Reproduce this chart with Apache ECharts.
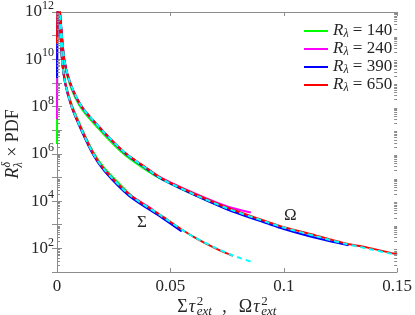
<!DOCTYPE html>
<html><head><meta charset="utf-8">
<script src="https://cdn.jsdelivr.net/npm/echarts@6/dist/echarts.min.js"></script>
<style>html,body{margin:0;padding:0;background:#fff}#c{width:415px;height:315px}</style>
</head><body><div id="c"></div>
<script>
const SERIF = '"Liberation Serif","DejaVu Serif",serif';
const axisCol = '#8c8c8c';
const textCol = '#262626';

// ---- legend / series meta ----
const seriesNames = ['R140', 'R240', 'R390', 'R650'];
const reynolds = ['140', '240', '390', '650'];
const seriesColors = ['#00ff00', '#ff00ff', '#0000ff', '#ff0000'];
const fitColor = '#00ffff';

// ---- x tick labels ----
const xTicks = [0, 0.05, 0.1, 0.15];

// ---- Omega curves (upper family) ----
const omegaX140 = [0.0005, 0.0013, 0.0032, 0.0058, 0.0109, 0.0204, 0.030, 0.0392, 0.0462, 0.061, 0.0754, 0.083];
const omegaY140 = [1e13, 8.9e11, 7.9e9, 7.9e8, 7.9e7, 7.1e6, 8.9e5, 2.1e5, 8.3e4, 1.74e4, 4.6e3, 2.8e3];
const omegaX240 = [0.0005, 0.0013, 0.0032, 0.0058, 0.0109, 0.0204, 0.030, 0.0392, 0.0462, 0.061, 0.0754, 0.0855];
const omegaY240 = [1e13, 1e12, 9.5e9, 9.3e8, 9.3e7, 8.5e6, 1.05e6, 2.5e5, 9.3e4, 2.04e4, 5.75e3, 3.3e3];
const omegaX390 = [0.0005, 0.0013, 0.0032, 0.0058, 0.0109, 0.0204, 0.030, 0.0392, 0.0462, 0.061, 0.0754, 0.0929, 0.1, 0.114, 0.1286];
const omegaY390 = [1e13, 1e12, 1e10, 1e9, 1e8, 8.9e6, 1.07e6, 2.45e5, 8.5e4, 1.74e4, 4.3e3, 1.12e3, 6.6e2, 2.8e2, 1.35e2];
const omegaX650 = [0.0005, 0.0013, 0.0032, 0.0058, 0.0109, 0.0204, 0.030, 0.0392, 0.0462, 0.061, 0.0754, 0.0929, 0.1, 0.114, 0.1278, 0.1365, 0.15];
const omegaY650 = [1e13, 1e12, 1e10, 1e9, 1e8, 8.9e6, 1.12e6, 2.63e5, 9.1e4, 1.95e4, 5.1e3, 1.32e3, 7.9e2, 3.55e2, 1.58e2, 1.1e2, 56];
const omegaFitX = [0.0005, 0.0013, 0.0032, 0.0058, 0.0109, 0.0204, 0.030, 0.0392, 0.0462, 0.061, 0.0754, 0.0929, 0.1, 0.114, 0.1278, 0.1365, 0.15];
const omegaFitY = [1e13, 1e12, 1e10, 1e9, 1e8, 8.9e6, 1.1e6, 2.5e5, 8.7e4, 1.82e4, 4.8e3, 1.26e3, 7.6e2, 3.3e2, 1.51e2, 1e2, 52];

// ---- Sigma curves (lower family) ----
const sigmaX140 = [0, 0.0005, 0.0022, 0.0036, 0.0065, 0.0109, 0.016, 0.0209, 0.0318, 0.034];
const sigmaY140 = [2.6e6, 1e13, 1.1e10, 1.1e9, 1.2e8, 1.2e7, 1.2e6, 2.5e5, 2.1e4, 1.3e4];
const sigmaX240 = [0, 0.0005, 0.0022, 0.0036, 0.0065, 0.0109, 0.016, 0.0209, 0.0318, 0.042];
const sigmaY240 = [2.9e7, 1e13, 1.05e10, 1.05e9, 1.07e8, 1.07e7, 1.07e6, 2.2e5, 2e4, 4.6e3];
const sigmaX390 = [0, 0.0005, 0.0022, 0.0036, 0.0065, 0.0109, 0.016, 0.0209, 0.0318, 0.0462, 0.055];
const sigmaY390 = [1.6e9, 1e13, 9.5e9, 9.3e8, 9.1e7, 8.9e6, 8.9e5, 1.86e5, 1.66e4, 2e3, 5.2e2];
const sigmaX650 = [0, 0.0005, 0.0022, 0.0036, 0.0065, 0.0109, 0.016, 0.0209, 0.0318, 0.0462, 0.055, 0.061, 0.0699, 0.0776];
const sigmaY650 = [4.7e10, 1e13, 1e10, 1e9, 1e8, 1e7, 1e6, 2.14e5, 1.95e4, 2.37e3, 6.3e2, 2.8e2, 1e2, 48];
const sigmaFitX = [0.0005, 0.0022, 0.0036, 0.0065, 0.0109, 0.016, 0.0209, 0.0318, 0.0462, 0.055, 0.061, 0.0699, 0.0776, 0.0868];
const sigmaFitY = [1e13, 1e10, 1e9, 1e8, 1e7, 1e6, 2.14e5, 1.9e4, 2.3e3, 6.3e2, 2.8e2, 1.05e2, 50, 25];

const zip = (xs, ys) => xs.map((x, i) => [x, ys[i]]);
const omegaData = [zip(omegaX140, omegaY140), zip(omegaX240, omegaY240), zip(omegaX390, omegaY390), zip(omegaX650, omegaY650)];
const sigmaData = [zip(sigmaX140, sigmaY140), zip(sigmaX240, sigmaY240), zip(sigmaX390, sigmaY390), zip(sigmaX650, sigmaY650)];

// minor log tick positions (2..9 x 10^k)
const minorTicks = [];
for (let e = 1; e < 12; e++) for (let k = 2; k < 10; k++) minorTicks.push(k * Math.pow(10, e));

const chart = echarts.init(document.getElementById('c'), null, {renderer: 'canvas'});

const SMOOTH = 0.25;
const series = [];
seriesNames.forEach((n, i) => {
  [sigmaData[i], omegaData[i]].forEach(d => {
    series.push({
      name: n, type: 'line', data: d, symbol: 'none', smooth: SMOOTH,
      lineStyle: {color: seriesColors[i], width: 2}, itemStyle: {color: seriesColors[i]},
      z: 2 + i, clip: true, silent: true
    });
  });
});
[zip(sigmaFitX, sigmaFitY), zip(omegaFitX, omegaFitY)].forEach(d => {
  series.push({
    name: 'fit', type: 'line', data: d, symbol: 'none', smooth: SMOOTH,
    lineStyle: {color: fitColor, width: 2, type: [5, 4]}, z: 10, clip: true, silent: true
  });
});
series.push({
  type: 'custom', data: minorTicks.map(v => [0, v]), silent: true, z: 20, clip: false,
  renderItem: (params, api) => {
    const p = api.coord([xTicks[0], api.value(1)]);
    const q = api.coord([xTicks[xTicks.length - 1], api.value(1)]);
    const y = Math.round(p[1]) + 0.5;
    return {type: 'group', children: [
      {type: 'line', shape: {x1: p[0], y1: y, x2: p[0] + 3, y2: y}, style: {stroke: axisCol, lineWidth: 1}},
      {type: 'line', shape: {x1: q[0] - 3, y1: y, x2: q[0], y2: y}, style: {stroke: axisCol, lineWidth: 1}}
    ]};
  }
});

const yLabelRich = {
  b: {fontFamily: SERIF, fontSize: 17, color: textCol},
  s: {fontFamily: SERIF, fontSize: 12, color: textCol, padding: [0, 0, 12, 0]}
};

const baseX = {
  type: 'value', min: xTicks[0], max: xTicks[xTicks.length - 1], interval: 0.05,
  axisLine: {show: true, lineStyle: {color: axisCol, width: 1}},
  axisTick: {show: true, inside: true, length: 4, lineStyle: {color: axisCol}},
  splitLine: {show: false}
};
const baseY = {
  type: 'log', logBase: 10, min: 10, max: 1e12, interval: 1,
  axisLine: {show: true, lineStyle: {color: axisCol, width: 1}},
  axisTick: {show: true, inside: true, length: 5, lineStyle: {color: axisCol}},
  splitLine: {show: false}, minorTick: {show: false}
};

chart.setOption({
  animation: false,
  backgroundColor: '#fff',
  grid: {left: 57, right: 14, top: 8, bottom: 43, containLabel: false},
  xAxis: [
    Object.assign({}, baseX, {position: 'bottom',
      axisLabel: {fontFamily: SERIF, fontSize: 17, color: textCol, margin: 6,
        formatter: v => (v === 0 ? '0' : String(+v.toFixed(2)))}}),
    Object.assign({}, baseX, {position: 'top', axisLabel: {show: false}})
  ],
  yAxis: [
    Object.assign({}, baseY, {position: 'left',
      axisLabel: {margin: 3, rich: yLabelRich,
        formatter: v => { const e = Math.round(Math.log10(v)); return e % 2 === 0 ? '{b|10}{s|' + e + '}' : ''; }}}),
    Object.assign({}, baseY, {position: 'right', axisLabel: {show: false}})
  ],
  legend: {
    show: true,
    data: seriesNames.map(n => ({name: n, icon: 'rect'})),
    orient: 'vertical', left: 299, top: 17, itemWidth: 24, itemHeight: 2, itemGap: 0,
    formatter: name => '{i|R}{s|λ}{t| = ' + reynolds[seriesNames.indexOf(name)] + '}',
    textStyle: {
      fontFamily: SERIF, fontSize: 16, color: textCol,
      rich: {
        i: {fontFamily: SERIF, fontSize: 17, fontStyle: 'italic', color: textCol, lineHeight: 19},
        s: {fontFamily: SERIF, fontSize: 12, fontStyle: 'italic', color: textCol, padding: [6, 0, 0, 0], lineHeight: 19},
        t: {fontFamily: SERIF, fontSize: 17, color: textCol, lineHeight: 19}
      }
    },
    selectedMode: false
  },
  series: series
});

// ---- text helpers ----
const mctx = document.createElement('canvas').getContext('2d');
function tw(t, size, italic) { mctx.font = (italic ? 'italic ' : '') + size + 'px ' + SERIF; return mctx.measureText(t).width; }
function txt(t, x, y, size, italic, align) {
  return {type: 'text', x: x, y: y, silent: true,
    style: {text: t, font: (italic ? 'italic ' : '') + size + 'px ' + SERIF, fill: textCol, textAlign: align || 'left', textVerticalAlign: 'middle'}};
}

function buildRow(pieces, subSize, off) {
  let x = 0; const out = [];
  pieces.forEach(p => {
    if (p.gap) { x += p.gap; return; }
    if (p.stack) {
      const w1 = tw(p.stack[0], subSize, p.italicSup), w2 = tw(p.stack[1], subSize, true);
      out.push(txt(p.stack[0], x + 0.5, -off, subSize, p.italicSup));
      out.push(txt(p.stack[1], x + 0.5, off, subSize, true));
      x += Math.max(w1, w2) + 1;
    } else {
      out.push(txt(p.t, x, p.dy || 0, p.size, p.italic));
      x += tw(p.t, p.size, p.italic);
    }
  });
  return {els: out, width: x};
}
// x-axis title: Στ^2_ext , Ωτ^2_ext
const xt = buildRow([
  {t: 'Σ', size: 18}, {gap: 1}, {t: 'τ', size: 18, italic: true}, {gap: 1}, {stack: ['2', 'ext']},
  {gap: 10}, {t: ',', size: 18}, {gap: 12},
  {t: 'Ω', size: 18}, {gap: 1}, {t: 'τ', size: 18, italic: true}, {gap: 1}, {stack: ['2', 'ext']}
], 13, 5);
const xCenter = chart.convertToPixel({xAxisIndex: 0}, (xTicks[0] + xTicks[3]) / 2);
const xTitle = {type: 'group', x: xCenter - xt.width / 2, y: 307, children: xt.els};

// y-axis title: R^δ_λ × PDF (rotated)
const yt = buildRow([
  {t: 'R', size: 18, italic: true}, {stack: ['δ', 'λ'], italicSup: true}, {t: ' × PDF', size: 18}
], 12, 6);
const yMid = chart.convertToPixel({yAxisIndex: 0}, Math.sqrt(10 * 1e12));
const yTitle = {type: 'group', x: 13, y: yMid + 2 + yt.width / 2, rotation: Math.PI / 2, children: yt.els};

// curve annotations
const sigPos = chart.convertToPixel({xAxisIndex: 0, yAxisIndex: 0}, [0.0375, 1.2e3]);
const omgPos = chart.convertToPixel({xAxisIndex: 0, yAxisIndex: 0}, [0.1029, 2.4e3]);

chart.setOption({
  graphic: [
    xTitle, yTitle,
    txt('Σ', sigPos[0], sigPos[1], 17, false, 'center'),
    txt('Ω', omgPos[0], omgPos[1], 17, false, 'center')
  ]
});
</script>
</body></html>
